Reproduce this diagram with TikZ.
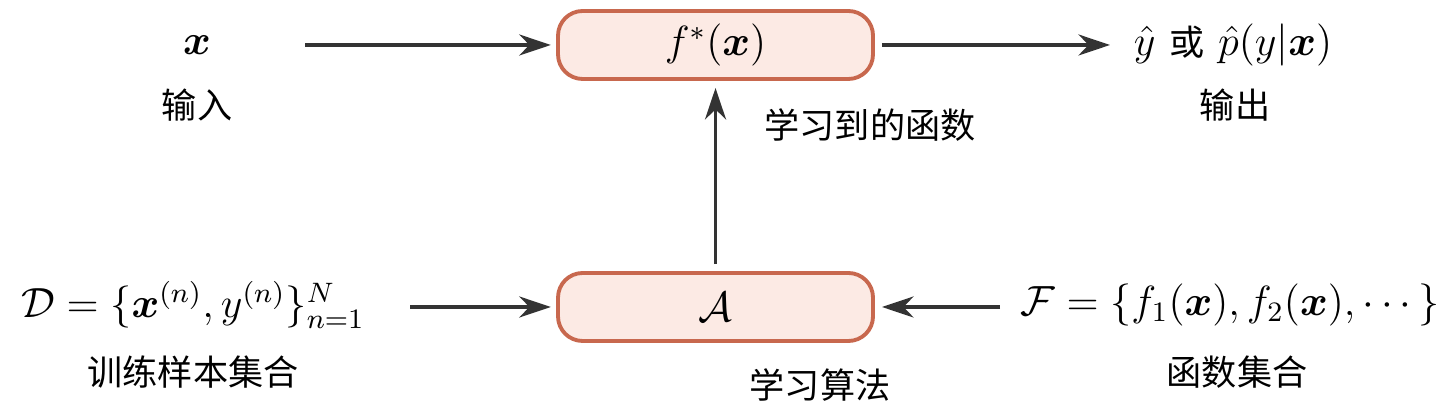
\documentclass[tikz,border=0pt]{standalone}
\usepackage{fontspec}
\usepackage{amsmath,bm}
\newfontfamily\cjk{Noto Sans CJK SC}
\usetikzlibrary{arrows.meta}
\definecolor{boxline}{RGB}{200,104,78}
\definecolor{boxfill}{RGB}{252,234,228}
\definecolor{arrowgray}{RGB}{51,51,51}
\tikzset{
  funcbox/.style={shape=rectangle, rounded corners=7pt, draw=boxline, fill=boxfill,
    line width=1.1pt, minimum width=3.15cm, minimum height=0.68cm, font=\large},
  flow/.style={-{Stealth[length=9pt,width=6pt]}, draw=arrowgray, line width=1.1pt},
  cn/.style={font=\cjk},
  mth/.style={font=\large, inner sep=1pt}
}
\begin{document}
\begin{tikzpicture}
      \useasboundingbox (0,0) rectangle (14.56,-4.08);
      \node[funcbox] (f) at (7.155,-0.45) {$f^{*}(\bm{x})$};
      \node[funcbox] (A) at (7.155,-3.07) {$\mathcal{A}$};

      \node[mth] (x) at (1.97,-0.45) {$\bm{x}$};
      \node[cn] (in) at (1.97,-1.05) {输入};
      \node[mth] (y) at (12.33,-0.45) {$\hat{y}$ {\cjk\normalsize 或} $\hat{p}(y|\bm{x})$};
      \node[cn] (out) at (12.35,-1.05) {输出};
      \node[cn] (learnt) at (8.7,-1.25) {学习到的函数};

      \node[mth] (D) at (1.93,-3.05) {$\mathcal{D}=\{\bm{x}^{(n)},y^{(n)}\}_{n=1}^N$};
      \node[cn] (train) at (1.93,-3.72) {训练样本集合};
      \node[mth] (F) at (12.3,-3.05) {$\mathcal{F}=\{f_1(\bm{x}),f_2(\bm{x}),\cdots\}$};
      \node[cn] (fset) at (12.37,-3.72) {函数集合};
      \node[cn] (algo) at (8.2,-3.85) {学习算法};

      \coordinate (xr) at (3.05,-0.45);
      \coordinate (yl) at (11.1,-0.45);
      \coordinate (Dr) at (4.1,-3.07);
      \coordinate (Fl) at (10.0,-3.07);

      \path  (xr) edge[flow] ([xshift=-1.5pt]f.west);
      \path  ([xshift=2pt]f.east) edge[flow] (yl);
      \path  ([yshift=2pt]A.north) edge[flow] ([yshift=-2pt]f.south);
      \path  (Dr) edge[flow] ([xshift=-1.5pt]A.west);
      \path  (Fl) edge[flow] ([xshift=2pt]A.east);
    \end{tikzpicture}
\end{document}
